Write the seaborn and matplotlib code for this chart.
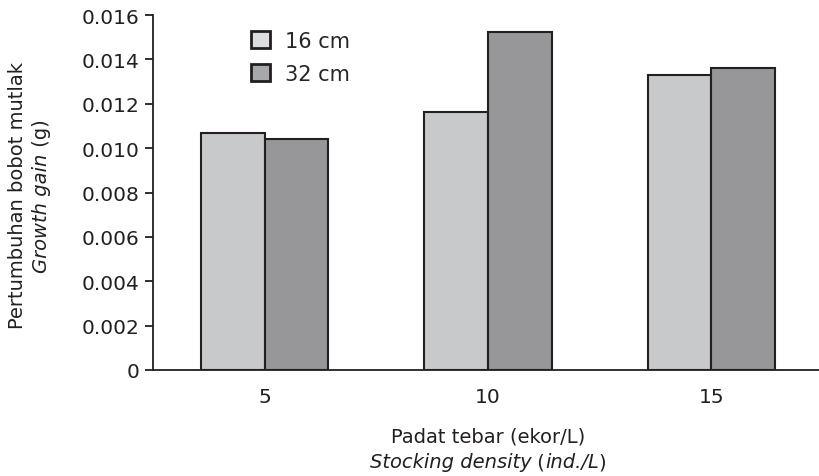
import matplotlib
matplotlib.use("Agg")
import matplotlib.pyplot as plt
import seaborn as sns
import pandas as pd
from matplotlib.patches import Patch
from matplotlib.transforms import offset_copy

densities = ["5", "10", "15"]
sizes = ["16 cm", "32 cm"]
gain_16 = [0.01068, 0.01163, 0.01328]
gain_32 = [0.01041, 0.01523, 0.01360]
y_ticks = [0, 0.002, 0.004, 0.006, 0.008, 0.010, 0.012, 0.014, 0.016]
y_tick_labels = ["0", "0.002", "0.004", "0.006", "0.008", "0.010", "0.012", "0.014", "0.016"]

df = pd.DataFrame({
    "density": densities * 2,
    "size": [sizes[0]] * 3 + [sizes[1]] * 3,
    "gain": gain_16 + gain_32,
})

sns.set_style("white")
plt.rcParams["font.family"] = ["DejaVu Sans"]

W, H = 820, 477
fig = plt.figure(figsize=(W / 100, H / 100), dpi=100)
ax = fig.add_axes([153 / W, (H - 371) / H, (823 - 153) / W, (371 - 16) / H])

edge = "#231f20"
txt = "#231f20"
FS = 14
sns.barplot(data=df, x="density", y="gain", hue="size", order=densities,
            hue_order=sizes, palette=["#c8c9cb", "#96979a"], edgecolor=edge,
            linewidth=1.5, width=0.57, gap=0, ax=ax, legend=False, errorbar=None)

ax.set_xlim(-0.5, 2.5)
ax.set_ylim(0, 0.016)
ax.set_yticks(y_ticks)
ax.set_yticklabels(y_tick_labels, fontsize=14.5, color=txt)
ax.set_xticks([0, 1, 2])
ax.set_xticklabels(densities, fontsize=14.5, color=txt)
ax.set_xticks([-0.5, 0.5, 1.5, 2.5], minor=True)
ax.tick_params(axis="x", which="major", length=0, pad=12)
ax.tick_params(axis="x", which="minor", length=7, width=1.3, color=edge, direction="out")
ax.tick_params(axis="y", length=6, width=1.3, color=edge, direction="out", pad=4, left=True)
ax.set_xlabel("")
ax.set_ylabel("")

for s in ["top", "right"]:
    ax.spines[s].set_visible(False)
for s in ["left", "bottom"]:
    ax.spines[s].set_color(edge)
    ax.spines[s].set_linewidth(1.3)

# Legend
handles = [Patch(facecolor="#dcddde", edgecolor=edge, linewidth=2.0),
           Patch(facecolor="#a7a8aa", edgecolor=edge, linewidth=2.0)]
fig.legend(handles, sizes, loc="upper left", bbox_to_anchor=(251 / W, (H - 32) / H),
           bbox_transform=fig.transFigure, frameon=False, fontsize=15,
           handlelength=0.9, handleheight=0.9, labelspacing=0.62,
           handletextpad=0.72, borderpad=0, borderaxespad=0)


def mixed_text(pieces, cx, cy, vertical=False):
    """Draw pieces [(text, style)] centred at pixel (cx, cy from top)."""
    fig.canvas.draw()
    r = fig.canvas.get_renderer()
    widths = []
    for s, st in pieces:
        t = fig.text(0, 0, s, fontsize=FS, style=st)
        widths.append(t.get_window_extent(r).width)
        t.remove()
    off = -sum(widths) / 2
    for (s, st), w in zip(pieces, widths):
        if vertical:
            tr = offset_copy(fig.transFigure, fig=fig, x=0, y=off, units="dots")
            fig.text(cx / W, (H - cy) / H, s, fontsize=FS, style=st, color=txt,
                     rotation=90, ha="center", va="bottom", transform=tr)
        else:
            tr = offset_copy(fig.transFigure, fig=fig, x=off, y=0, units="dots")
            fig.text(cx / W, (H - cy) / H, s, fontsize=FS, style=st, color=txt,
                     ha="left", va="center", transform=tr)
        off += w


# Y label (two lines)
fig.text(18 / W, (H - 196) / H, "Pertumbuhan bobot mutlak", rotation=90,
         ha="center", va="center", fontsize=FS, color=txt)
mixed_text([("Growth gain", "italic"), (" (g)", "normal")], 42, 196, vertical=True)

# X label (two lines)
fig.text(488 / W, (H - 437) / H, "Padat tebar (ekor/L)", ha="center", va="center",
         fontsize=FS, color=txt)
mixed_text([("Stocking density", "italic"), (" (", "normal"), ("ind./L", "italic"),
            (")", "normal")], 488, 463)

fig.savefig("out.png", dpi=100, facecolor="white")
